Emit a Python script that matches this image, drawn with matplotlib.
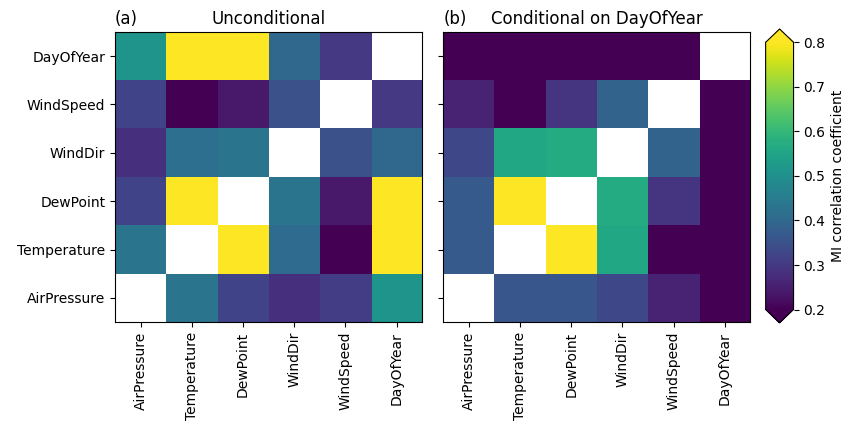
import numpy as np
import matplotlib.pyplot as plt

variables = ['AirPressure', 'Temperature', 'DewPoint', 'WindDir', 'WindSpeed', 'DayOfYear']
nan = np.nan

# rows follow `variables` order (AirPressure at the bottom)
unconditional = np.array([
    [nan, 0.43, 0.32, 0.28, 0.31, 0.51],
    [0.43, nan, 0.85, 0.41, 0.20, 0.85],
    [0.32, 0.85, nan, 0.43, 0.24, 0.85],
    [0.28, 0.42, 0.43, nan, 0.35, 0.40],
    [0.32, 0.18, 0.24, 0.35, nan, 0.30],
    [0.51, 0.85, 0.85, 0.40, 0.30, nan],
])

conditional = np.array([
    [nan, 0.36, 0.36, 0.33, 0.26, 0.15],
    [0.37, nan, 0.85, 0.56, 0.18, 0.15],
    [0.37, 0.85, nan, 0.57, 0.29, 0.15],
    [0.33, 0.56, 0.57, nan, 0.39, 0.15],
    [0.26, 0.18, 0.29, 0.39, nan, 0.15],
    [0.15, 0.15, 0.15, 0.15, 0.15, nan],
])

fig = plt.figure(figsize=(8.46, 4.26), dpi=100)
ax1 = fig.add_axes([0.136, 0.244, 0.363, 0.681])
ax2 = fig.add_axes([0.524, 0.244, 0.363, 0.681])
cax = fig.add_axes([0.905, 0.242, 0.033, 0.690])

for ax, mat, title, tag in [(ax1, unconditional, 'Unconditional', '(a)'),
                            (ax2, conditional, 'Conditional on DayOfYear', '(b)')]:
    im = ax.imshow(mat, origin='lower', cmap='viridis', vmin=0.2, vmax=0.8,
                   aspect='auto', interpolation='nearest')
    ax.set_xticks(range(len(variables)))
    ax.set_xticklabels(variables, rotation=90)
    ax.set_yticks(range(len(variables)))
    ax.set_title(title, fontsize=12)
    ax.set_title(tag, loc='left', fontsize=12)

ax1.set_yticklabels(variables)
ax2.set_yticklabels([])

cb = fig.colorbar(im, cax=cax, extend='both')
cb.set_ticks([0.2, 0.3, 0.4, 0.5, 0.6, 0.7, 0.8])
cb.set_label('MI correlation coefficient', fontsize=10)

fig.savefig('out.png', dpi=100)
